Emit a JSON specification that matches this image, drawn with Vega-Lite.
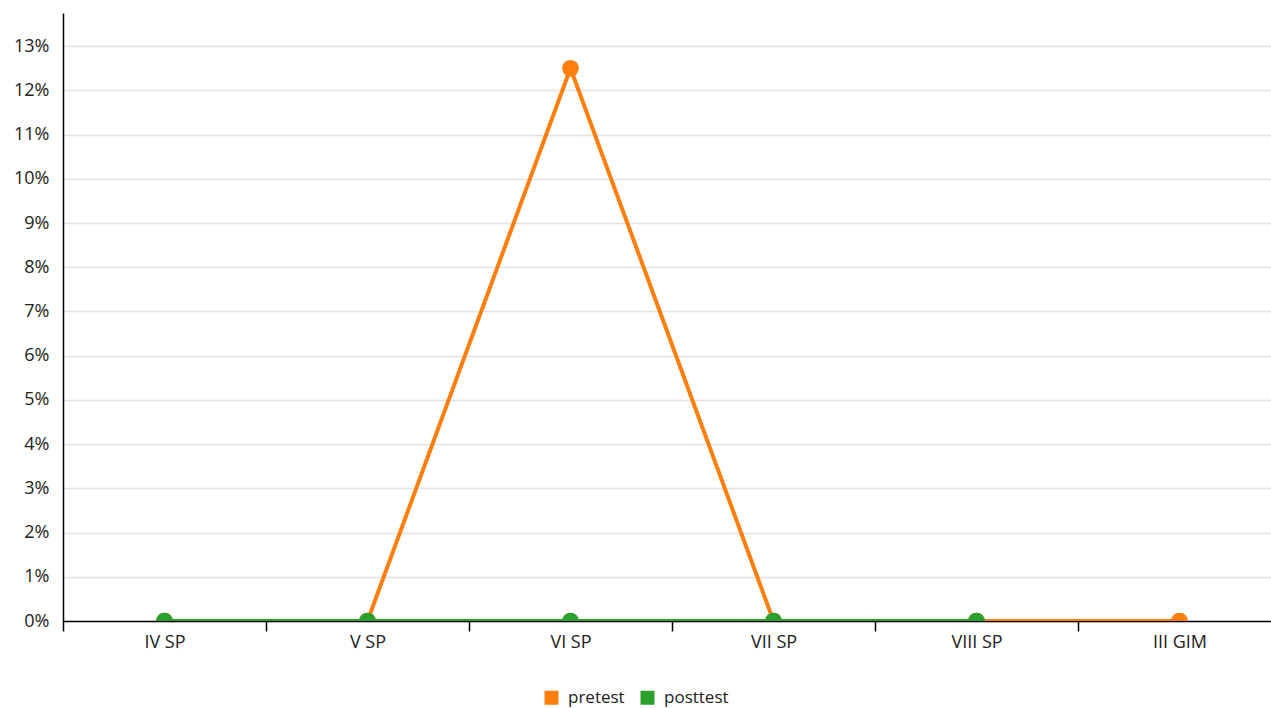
{
  "$schema": "https://vega.github.io/schema/vega-lite/v6.json",
  "width": 1218,
  "height": 608,
  "autosize": {"type": "none"},
  "padding": {"left": 63, "top": 13, "right": -10, "bottom": 87},
  "config": {
    "font": "Open Sans",
    "view": {"stroke": null},
    "axis": {"labelFont": "Open Sans", "labelFontSize": 18, "labelColor": "#222222", "domainColor": "#000000", "tickColor": "#000000", "domainWidth": 1.5, "tickWidth": 1.5}
  },
  "data": {
    "values": [
      {"klasa": "IV SP", "seria": "pretest", "wartosc": 0},
      {"klasa": "V SP", "seria": "pretest", "wartosc": 0},
      {"klasa": "VI SP", "seria": "pretest", "wartosc": 0.125},
      {"klasa": "VII SP", "seria": "pretest", "wartosc": 0},
      {"klasa": "VIII SP", "seria": "pretest", "wartosc": 0},
      {"klasa": "III GIM", "seria": "pretest", "wartosc": 0},
      {"klasa": "IV SP", "seria": "posttest", "wartosc": 0},
      {"klasa": "V SP", "seria": "posttest", "wartosc": 0},
      {"klasa": "VI SP", "seria": "posttest", "wartosc": 0},
      {"klasa": "VII SP", "seria": "posttest", "wartosc": 0},
      {"klasa": "VIII SP", "seria": "posttest", "wartosc": 0}
    ]
  },
  "encoding": {
    "x": {
      "field": "klasa", "type": "nominal", "sort": null,
      "scale": {"type": "band", "paddingInner": 0, "paddingOuter": 0, "domain": ["IV SP", "V SP", "VI SP", "VII SP", "VIII SP", "III GIM"]},
      "axis": {"title": null, "labelAngle": 0, "tickBand": "extent", "tickSize": 10, "labelPadding": 2, "grid": false}
    },
    "y": {
      "field": "wartosc", "type": "quantitative",
      "scale": {"domain": [0, 0.1375], "nice": false, "zero": true},
      "axis": {"title": null, "values": [0, 0.01, 0.02, 0.03, 0.04, 0.05, 0.06, 0.07, 0.08, 0.09, 0.1, 0.11, 0.12, 0.13], "format": ".0%", "ticks": false, "labelPadding": 14, "grid": true, "gridColor": "#e2e2e2", "gridWidth": 1.5}
    },
    "color": {
      "field": "seria", "type": "nominal",
      "scale": {"domain": ["pretest", "posttest"], "range": ["#ff7f0e", "#2ca02c"]},
      "legend": {"title": null, "orient": "none", "direction": "horizontal", "legendX": 480, "legendY": 676, "symbolType": "square", "symbolSize": 196, "symbolOpacity": 1, "symbolStrokeWidth": 0, "labelFontSize": 17, "labelFont": "Open Sans", "labelColor": "#222222", "columnPadding": 14, "labelOffset": 8}
    }
  },
  "layer": [
    {"mark": {"type": "line", "strokeWidth": 4, "clip": true}},
    {"mark": {"type": "point", "filled": true, "size": 280, "opacity": 1, "clip": true}}
  ]
}
